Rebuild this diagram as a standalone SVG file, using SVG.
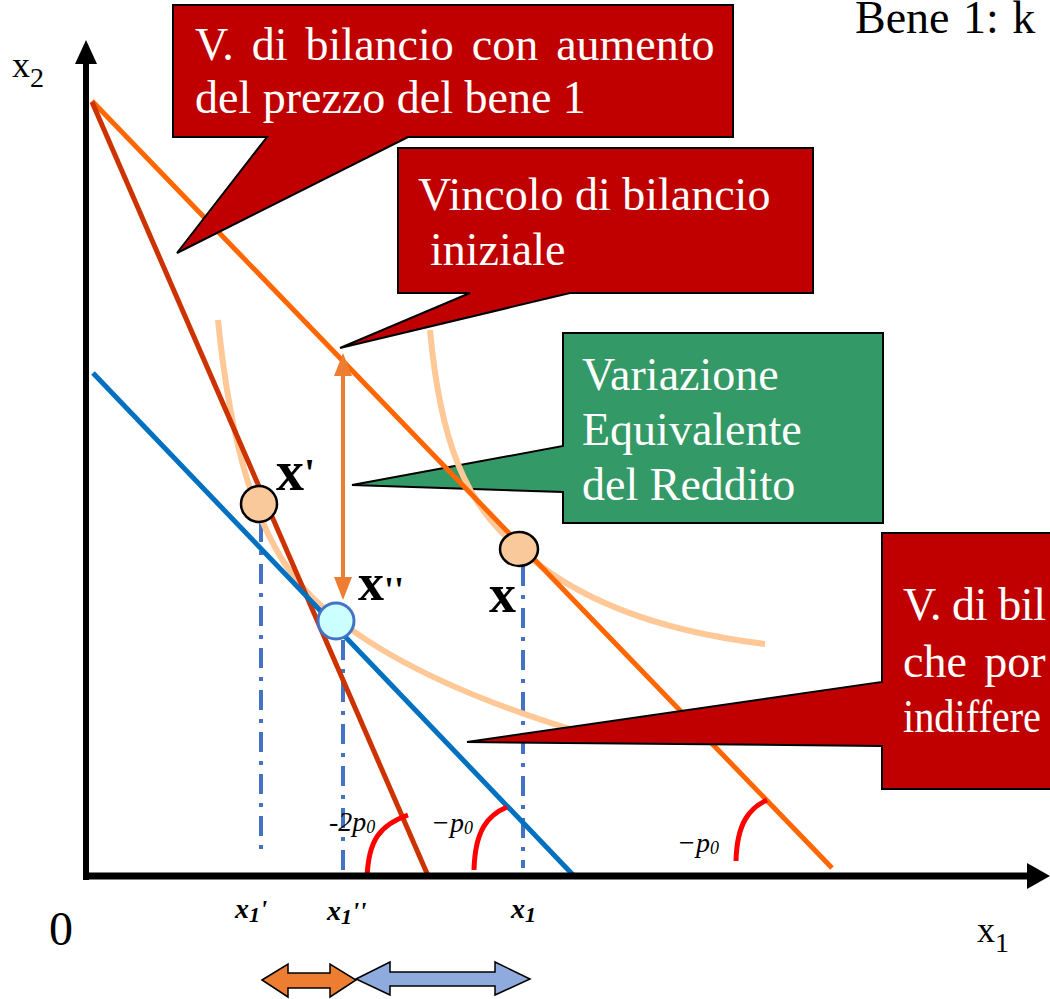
<svg xmlns="http://www.w3.org/2000/svg" width="1050" height="999" viewBox="0 0 1050 999">
<style>
.ct{font-family:"Liberation Serif",serif;font-size:46px;fill:#fff}
.red{fill:#C00000;stroke:#000;stroke-width:2}
.grn{fill:#339966;stroke:#000;stroke-width:2}
.lbl{font-family:"Liberation Serif",serif;fill:#000}
.pt{font-family:"Liberation Serif",serif;font-weight:bold;fill:#000}
.bi{font-family:"Liberation Serif",serif;font-weight:bold;font-style:italic;fill:#000}
.it{font-family:"Liberation Serif",serif;font-style:italic;fill:#000;font-size:28px}
.ic{fill:none;stroke:#FFC896;stroke-width:6;stroke-linecap:butt}
.dd{fill:none;stroke:#4472C4;stroke-width:4;stroke-dasharray:20 9 4 9}
.arc{fill:none;stroke:#FF0000;stroke-width:5}
</style>
<rect width="1050" height="999" fill="#fff"/>

<g id="callout-ev">
<path class="grn" d="M563,333 H883 V523 H563 V492 L352,485 L563,446 Z"/>
<text class="ct" x="582" y="390">Variazione</text>
<text class="ct" x="582" y="445">Equivalente</text>
<text class="ct" x="582" y="500">del Reddito</text>
</g>

<g id="guides">
<line class="dd" x1="261" y1="522" x2="261" y2="852"/>
<line class="dd" x1="343" y1="640" x2="343" y2="876"/>
<line class="dd" x1="523" y1="566" x2="523" y2="868"/>
</g>

<g id="connectors">
<path id="curve-low" class="ic" d="M218,320 C230,440 255,540 310,595 C360,645 450,695 600,738"/>
<path id="curve-high" class="ic" d="M430,330 C440,440 465,505 519,548 C570,595 650,630 765,644"/>
<line id="bl-initial" x1="92" y1="101" x2="832" y2="868" stroke="#FF6600" stroke-width="5"/>
<line id="bl-price" x1="92" y1="102" x2="429" y2="878" stroke="#CC3300" stroke-width="5"/>
<line id="bl-comp" x1="93" y1="373" x2="575" y2="877" stroke="#0070C0" stroke-width="5"/>
<path class="arc" d="M367,879 C368,840 380,825 408,815"/>
<path class="arc" d="M474,870 C475,830 488,815 507,807"/>
<path class="arc" d="M736,861 C737,822 750,808 767,800"/>
<g id="ev-arrow">
<line x1="343" y1="372" x2="343" y2="582" stroke="#ED7D31" stroke-width="4"/>
<polygon points="343,353 334,376 352,376" fill="#ED7D31"/>
<polygon points="343,600 334,577 352,577" fill="#ED7D31"/>
</g>
</g>

<g id="axes">
<line x1="86" y1="880" x2="86" y2="60" stroke="#000" stroke-width="6"/>
<polygon points="86,40 75,64 97,64" fill="#000"/>
<line x1="83" y1="876" x2="1030" y2="876" stroke="#000" stroke-width="7"/>
<polygon points="1050,876 1027,863 1027,889" fill="#000"/>
</g>

<g id="point-x1p">
<circle cx="259" cy="504" r="18" fill="#F9C89B" stroke="#000" stroke-width="2.5"/>
<text class="pt" x="276" y="490" font-size="56">x<tspan font-size="40" dy="-4">'</tspan></text>
</g>
<g id="point-x2p">
<circle cx="336" cy="621" r="18" fill="#CCFFFF" stroke="#4472C4" stroke-width="3"/>
<text class="pt" x="358" y="600" font-size="52">x<tspan font-size="36" dy="2">''</tspan></text>
</g>
<g id="point-x">
<ellipse cx="519" cy="549" rx="19" ry="17" fill="#F9C89B" stroke="#000" stroke-width="2.5"/>
<text class="pt" x="489" y="612" font-size="54">x</text>
</g>

<g id="slopes">
<text class="it" x="329" y="831">-2<tspan>p</tspan><tspan font-size="18" dy="2">0</tspan></text>
<text class="it" x="431" y="832">−p<tspan font-size="18" dy="2">0</tspan></text>
<text class="it" x="677" y="852">−p<tspan font-size="18" dy="2">0</tspan></text>
</g>

<g id="axis-labels">
<text class="lbl" x="12" y="77" font-size="36">x<tspan font-size="28" dy="10">2</tspan></text>
<text class="lbl" x="977" y="942" font-size="36">x<tspan font-size="28" dy="10">1</tspan></text>
<text class="lbl" x="49" y="945" font-size="48">0</text>
<text class="bi" x="235" y="918" font-size="28">x<tspan font-size="22" dy="4">1</tspan><tspan font-size="26" dy="-4">'</tspan></text>
<text class="bi" x="327" y="920" font-size="28">x<tspan font-size="22" dy="4">1</tspan><tspan font-size="26" dy="-4">''</tspan></text>
<text class="bi" x="511" y="918" font-size="28">x<tspan font-size="22" dy="4">1</tspan></text>
<text class="lbl" x="855" y="33" font-size="46" word-spacing="2">Bene 1: k</text>
</g>

<g id="callout-price">
<path class="red" d="M173,5 H733 V137 H408 L177,253 L267,137 H173 Z"/>
<text class="ct" x="195" y="60" word-spacing="6.5">V. di bilancio con aumento</text>
<text class="ct" x="195" y="113">del prezzo del bene 1</text>
</g>
<g id="callout-initial">
<path class="red" d="M398,148 H813 V293 H570 L340,348 L470,293 H398 Z"/>
<text class="ct" x="418" y="210">Vincolo di bilancio</text>
<text class="ct" x="430" y="265">iniziale</text>
</g>
<g id="callout-comp">
<path class="red" d="M882,533 H1060 V789 H882 V746 L467,742 L882,682 Z"/>
<text class="ct" x="903" y="620" textLength="143" lengthAdjust="spacing">V. di bil</text>
<text class="ct" x="903" y="677" word-spacing="6">che por</text>
<text class="ct" x="903" y="732" textLength="138" lengthAdjust="spacingAndGlyphs">indiffere</text>
</g>

<g id="delta-arrows">
<polygon points="262,980 288,964 288,973 330,973 330,964 356,980 330,997 330,988 288,988 288,997" fill="#ED7D31" stroke="#000" stroke-width="1.5"/>
<polygon points="356,979 390,962 390,972 495,972 495,962 530,979 495,995 495,986 390,986 390,995" fill="#8FAADC" stroke="#000" stroke-width="1.5"/>
</g>
</svg>
